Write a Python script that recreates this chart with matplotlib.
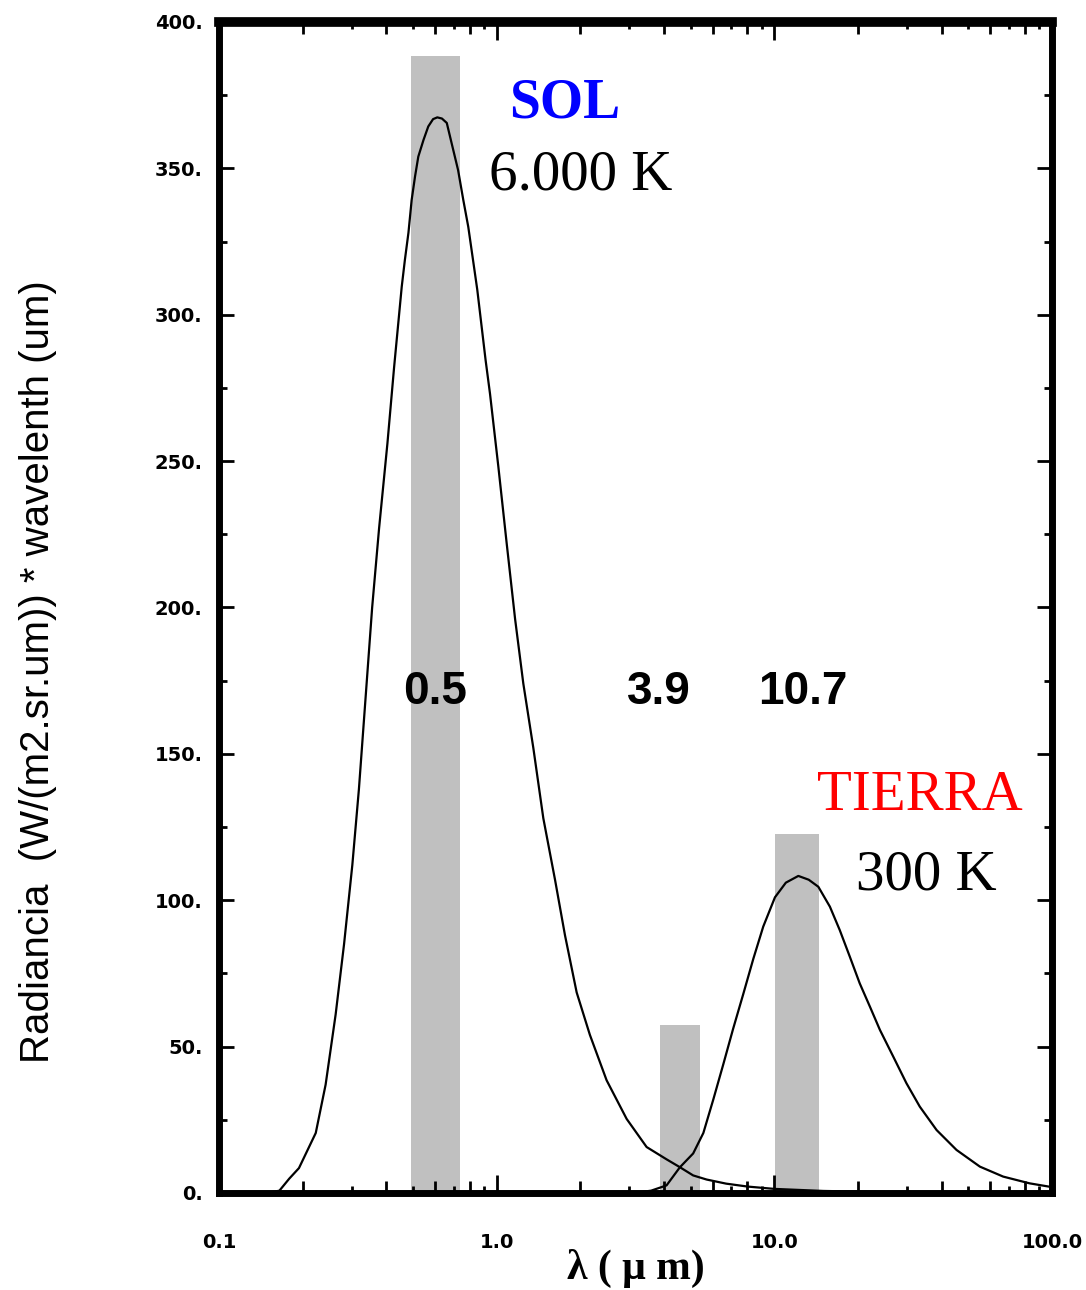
import matplotlib
matplotlib.use("Agg")
import matplotlib.pyplot as plt
from matplotlib.ticker import FixedLocator, FuncFormatter

# curva del Sol (6000 K): longitud de onda (um) y radiancia*lambda
sol_wl = [0.15, 0.165, 0.179, 0.194, 0.223, 0.242, 0.263, 0.282, 0.302, 0.319,
          0.337, 0.356, 0.377, 0.404, 0.427, 0.455, 0.467, 0.481, 0.494, 0.508,
          0.522, 0.545, 0.567, 0.59, 0.611, 0.635, 0.661, 0.688, 0.726, 0.758,
          0.79, 0.851, 0.912, 0.946, 1.014, 1.086, 1.165, 1.247, 1.355,
          1.472, 1.622, 1.762, 1.941, 2.166, 2.488, 2.938, 3.467, 4.09, 4.57,
          5.1, 5.7, 6.7, 8.0, 10.0, 15.0, 25.0, 50.0, 100.0]
sol_rad = [0.0, 0.8, 4.9, 8.5, 20.5, 37, 61, 85, 112, 138,
           169, 200, 227, 256, 282, 309.6, 318.7, 328, 339.2, 347.2,
           354, 359.7, 364.3, 366.8, 367.4, 367, 365.5, 358.6, 349.4, 339.2,
           330, 308.6, 284.5, 273, 248, 222, 196, 174, 152,
           128, 107, 88, 68.5, 54, 38.5, 25.3, 15.7, 11.5, 8.8,
           6.0, 4.6, 3.2, 2.2, 1.4, 0.7, 0.3, 0.1, 0.0]

# curva de la Tierra (300 K)
tie_wl = [3.0, 3.3, 3.6, 4.09, 4.57, 5.1, 5.55, 6.03, 6.55, 7.1,
          7.73, 8.4, 9.12, 10.05, 11.0, 12.2, 13.3, 14.4, 15.85, 17.2,
          18.7, 20.3, 22.1, 24.0, 26.8, 29.9, 33.4, 38.4, 45.3, 55.0,
          66.7, 83.0, 100.0]
tie_rad = [0.0, 0.3, 0.8, 2.6, 8.8, 13.5, 20.5, 32, 44, 56,
           68, 80, 91, 101, 106, 108.3, 107, 104.6, 97.8, 89.8,
           80.7, 71.6, 63.6, 55.7, 46.6, 37.5, 29.5, 21.5, 14.7, 9.0,
           5.6, 3.3, 2.0]

# bandas (canales) en gris
banda_ini = [0.49, 3.87, 10.05]
banda_fin = [0.74, 5.40, 14.5]
banda_alto = [388.5, 57.3, 122.5]
banda_txt = ['0.5', '3.9', '10.7']
banda_txt_x = [0.60, 3.84, 12.7]

fig = plt.figure(figsize=(10.86, 12.90), dpi=100)
ax = fig.add_axes([0.2017, 0.0752, 0.7670, 0.9078])

ax.bar(banda_ini, banda_alto,
       width=[f - i for i, f in zip(banda_ini, banda_fin)],
       align='edge', color='#c0c0c0', zorder=1)
ax.plot(sol_wl, sol_rad, color='black', lw=1.6, zorder=3)
ax.plot(tie_wl, tie_rad, color='black', lw=1.6, zorder=3)

ax.set_xscale('log')
ax.set_xlim(0.1, 100)
ax.set_ylim(0, 400)

# ticks
decadas = [0.1, 1.0, 10.0, 100.0]
pares = [m * 10.0 ** e for e in (-1, 0, 1) for m in (2, 4, 6, 8)]
impares = [m * 10.0 ** e for e in (-1, 0, 1) for m in (3, 5, 7, 9)]
mayores = sorted(decadas + pares)
ax.xaxis.set_major_locator(FixedLocator(mayores))
ax.xaxis.set_minor_locator(FixedLocator(impares))
etiq_x = {0.1: '0.1', 1.0: '1.0', 10.0: '10.0', 100.0: '100.0'}
ax.xaxis.set_major_formatter(FuncFormatter(
    lambda v, p: next((t for k, t in etiq_x.items() if abs(v - k) < 1e-9 * k), '')))
ax.xaxis.set_minor_formatter(FuncFormatter(lambda v, p: ''))

ax.yaxis.set_major_locator(FixedLocator(range(0, 401, 50)))
ax.yaxis.set_minor_locator(FixedLocator(range(25, 400, 50)))
ax.yaxis.set_major_formatter(FuncFormatter(lambda v, p: '%d.' % v))

ax.tick_params(which='both', direction='in', top=True, right=True,
               width=2, colors='black')
ax.tick_params(axis='x', which='major', length=8.6, pad=29)
ax.tick_params(axis='x', which='minor', length=5)
ax.tick_params(axis='y', which='major', length=10.8, pad=12)
ax.tick_params(axis='y', which='minor', length=5.8)

for t, loc in zip(ax.xaxis.get_major_ticks(len(mayores)), mayores):
    if any(abs(loc - d) < 1e-9 for d in decadas):
        t.tick1line.set_markersize(13)
        t.tick2line.set_markersize(13)

for lab in ax.get_xticklabels() + ax.get_yticklabels():
    lab.set_fontsize(14)
    lab.set_fontweight('bold')
    lab.set_family('DejaVu Sans')

for s in ax.spines.values():
    s.set_linewidth(5)
ax.spines['top'].set_linewidth(7)

# textos
for x, t in zip(banda_txt_x, banda_txt):
    ax.text(x, 171, t, ha='center', va='center', fontsize=33,
            fontweight='bold', family=['Liberation Sans', 'DejaVu Sans'], zorder=4)

serif = ['Liberation Serif', 'DejaVu Serif']
ax.text(1.75, 372, 'SOL', color='#0000ff', ha='center', va='center',
        fontsize=40, fontweight='bold', family=serif)
ax.text(2.0, 347.5, '6.000 K', color='black', ha='center', va='center',
        fontsize=41, family=serif)
ax.text(33.4, 135.5, 'TIERRA', color='#ff0000', ha='center', va='center',
        fontsize=41, family=serif)
ax.text(35.2, 108.5, '300 K', color='black', ha='center', va='center',
        fontsize=41, family=serif)

fig.text(636 / 1086, 1 - 1268 / 1290, 'λ ( μ m)', ha='center', va='center',
         fontsize=30, fontweight='bold', family=serif)
fig.text(38 / 1086, 1 - 672 / 1290, 'Radiancia  (W/(m2.sr.um)) * wavelenth (um)',
         rotation=90, ha='center', va='center', fontsize=29,
         family=['Liberation Sans Narrow', 'Liberation Sans', 'DejaVu Sans'])

fig.savefig('out.png', dpi=100)
